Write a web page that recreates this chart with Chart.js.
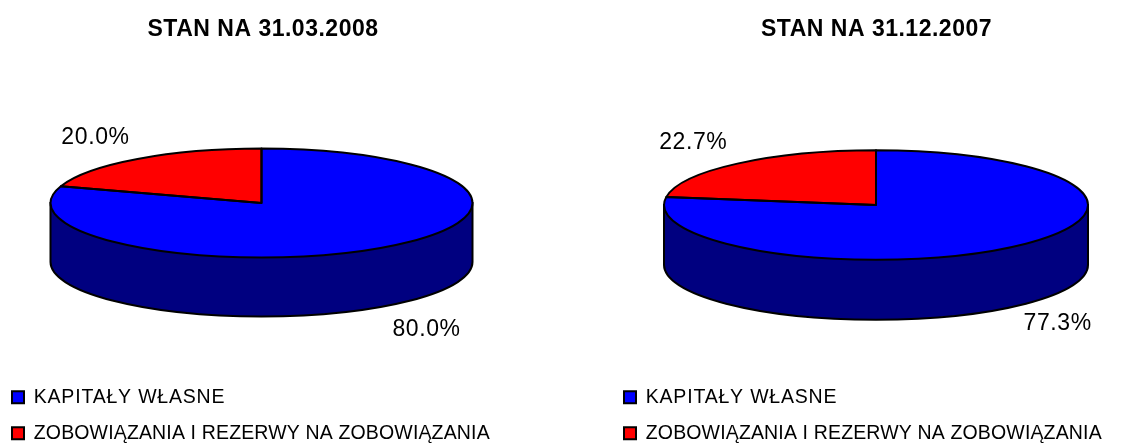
<!DOCTYPE html>
<html><head><meta charset="utf-8">
<script src="https://cdn.jsdelivr.net/npm/chart.js@4"></script>
<style>html,body{margin:0;padding:0;background:#fff;overflow:hidden}canvas{position:absolute;top:0}</style>
</head><body>
<canvas id="c1" width="526" height="443" style="left:0"></canvas>
<canvas id="c2" width="513" height="443" style="left:620px"></canvas>
<script>
const categories = ['KAPITAŁY WŁASNE', 'ZOBOWIĄZANIA I REZERWY NA ZOBOWIĄZANIA'];
const valuesMar2008 = [80.0, 20.0];
const valuesDec2007 = [77.3, 22.7];
const titleMar2008 = 'STAN NA 31.03.2008';
const titleDec2007 = 'STAN NA 31.12.2007';
const colors = ['#0000ff', '#ff0000'];
const sideColor = '#000080';
const legendSpacing = ['0.8px', '0.15px'];

function pie3d(id, title, values, g) {
  const plugin = {
    id: 'pie3d',
    afterLayout(chart) {
      const L = chart.legend, w = L.right - L.left;
      L.left = g.legendX - L.options.labels.padding;
      L.right = L.left + w;
      L.top = g.legendY;
    },
    beforeDraw(chart) {
      const ctx = chart.ctx;
      if (!chart.$wrapped) {
        chart.$wrapped = true;
        const T = chart.titleBlock, td = T.draw.bind(T);
        T.draw = function () { ctx.save(); ctx.letterSpacing = '0.5px'; td(); ctx.restore(); };
        const L = chart.legend, ld = L.draw.bind(L);
        L.draw = function () {
          const ft = ctx.fillText;
          ctx.fillText = function (s, x, y, m) {
            const i = categories.indexOf(s);
            ctx.letterSpacing = i >= 0 ? legendSpacing[i] : '0px';
            return m === undefined ? ft.call(ctx, s, x, y) : ft.call(ctx, s, x, y, m);
          };
          ctx.save(); ld(); ctx.restore();
          delete ctx.fillText;
        };
      }
    },
    beforeDatasetsDraw(chart) {
      const ctx = chart.ctx, el = chart.getDatasetMeta(0).data[0];
      const r = el.outerRadius, ry = r * g.squash;
      ctx.save();
      ctx.beginPath();
      ctx.moveTo(g.cx - r, g.cy);
      ctx.lineTo(g.cx - r, g.cy + g.depth);
      ctx.ellipse(g.cx, g.cy + g.depth, r, ry, 0, Math.PI, 0, true);
      ctx.lineTo(g.cx + r, g.cy);
      ctx.closePath();
      ctx.fillStyle = sideColor; ctx.fill();
      ctx.lineWidth = 2; ctx.strokeStyle = '#000'; ctx.stroke();
      ctx.restore();
      ctx.save();
      ctx.translate(g.cx, g.cy); ctx.scale(1, g.squash); ctx.translate(-el.x, -el.y);
    },
    afterDatasetsDraw(chart) {
      const ctx = chart.ctx;
      ctx.restore();
      const arcs = chart.getDatasetMeta(0).data;
      arcs.forEach((el, i) => {
        const r = el.outerRadius;
        ctx.save();
        ctx.beginPath();
        ctx.ellipse(g.cx, g.cy, r, r * g.squash, 0, el.startAngle, el.endAngle);
        ctx.lineTo(g.cx, g.cy);
        ctx.closePath();
        ctx.lineWidth = 2; ctx.strokeStyle = '#000'; ctx.lineJoin = 'round'; ctx.stroke();
        ctx.restore();
        const mid = (el.startAngle + el.endAngle) / 2;
        const lower = Math.sin(mid) > 0;
        const px = g.cx + r * Math.cos(mid) + g.labelOffset[i][0];
        const py = g.cy + r * g.squash * Math.sin(mid) + (lower ? g.depth : 0) + g.labelOffset[i][1];
        ctx.save();
        ctx.font = '23px "Liberation Sans", Arial, sans-serif';
        ctx.letterSpacing = '0.6px';
        ctx.fillStyle = '#000'; ctx.textAlign = 'center'; ctx.textBaseline = 'middle';
        ctx.fillText(values[i].toFixed(1) + '%', px, py);
        ctx.restore();
      });
    }
  };
  return new Chart(document.getElementById(id), {
    type: 'pie',
    data: { labels: categories, datasets: [{ data: values, backgroundColor: colors, borderWidth: 0, clip: false }] },
    options: {
      responsive: false, animation: false, rotation: 0, radius: g.radius,
      layout: { padding: 0 },
      plugins: {
        tooltip: { enabled: false },
        title: { display: true, text: title, color: '#000', padding: { top: 16, bottom: 10 },
          font: { family: '"Liberation Sans", Arial, sans-serif', size: 23, weight: 'bold' } },
        legend: { position: 'bottom', align: 'start',
          labels: { boxWidth: 12, boxHeight: 12, padding: 16.5, color: '#000',
            font: { family: '"Liberation Sans", Arial, sans-serif', size: 19.5 },
            generateLabels(chart) {
              return Chart.overrides.pie.plugins.legend.labels.generateLabels(chart).map(l =>
                Object.assign(l, { strokeStyle: '#000', lineWidth: 2 }));
            } } }
      }
    },
    plugins: [plugin]
  });
}

pie3d('c1', titleMar2008, valuesMar2008, { cx: 261.5, cy: 203, radius: 211, squash: 0.258, depth: 59,
  legendX: 12, legendY: 371, labelOffset: [[41, 24], [-42, -21]] });
pie3d('c2', titleDec2007, valuesDec2007, { cx: 256, cy: 205, radius: 212, squash: 0.258, depth: 60,
  legendX: 4, legendY: 371, labelOffset: [[43, 17], [-44, -21]] });
</script>
</body></html>
